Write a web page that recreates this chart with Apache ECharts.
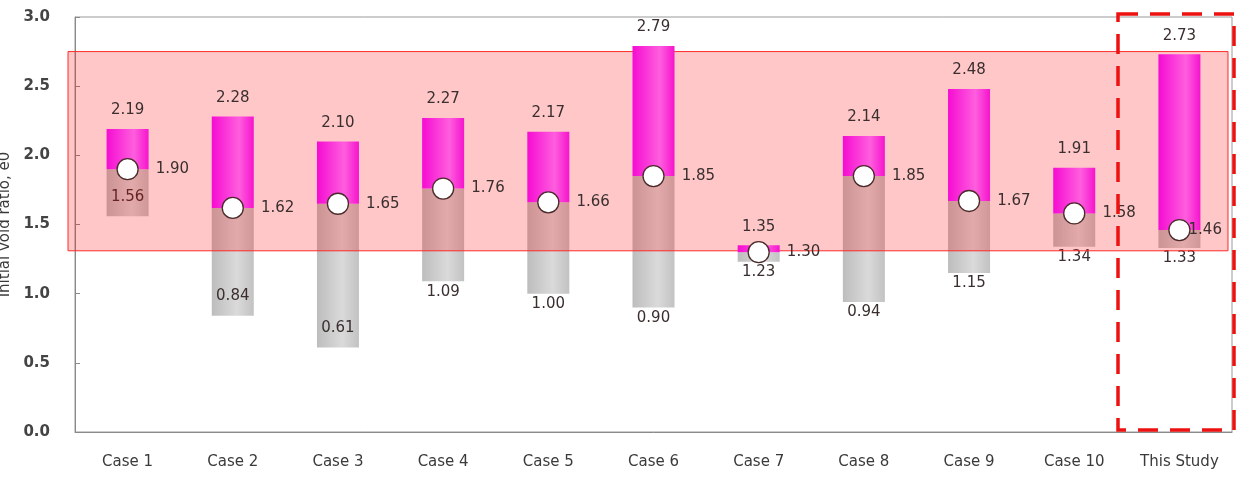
<!DOCTYPE html>
<html>
<head>
<meta charset="utf-8">
<script src="https://cdn.jsdelivr.net/npm/echarts@6/dist/echarts.min.js"></script>
<style>html,body{margin:0;padding:0;background:#fff;}#c{width:1240px;height:483px;}</style>
</head>
<body>
<div id="c"></div>
<script>
const categories = ['Case 1','Case 2','Case 3','Case 4','Case 5','Case 6','Case 7','Case 8','Case 9','Case 10','This Study'];
const maxVals  = [2.19, 2.28, 2.10, 2.27, 2.17, 2.79, 1.35, 2.14, 2.48, 1.91, 2.73];
const meanVals = [1.90, 1.62, 1.65, 1.76, 1.66, 1.85, 1.30, 1.85, 1.67, 1.58, 1.46];
const minVals  = [1.56, 0.84, 0.61, 1.09, 1.00, 0.90, 1.23, 0.94, 1.15, 1.34, 1.33];
const yRange = [0, 3.0];
const yStep = 0.5;
const bandRange = [1.31, 2.75];

const minInside = [true, true, true, false, false, false, false, false, false, false, false];
const meanLabelDist = [17, 17, 17, 17, 17, 17, 17, 17, 17, 17, -2];

const FONT = 'DejaVu Sans, Verdana, sans-serif';
const labelFont = {fontFamily: FONT, fontSize: 15, color: '#3a2e2e'};

const chart = echarts.init(document.getElementById('c'));
const diff = (a, b) => +(a - b).toFixed(4);

const magenta = {type: 'linear', x: 0, y: 0, x2: 1, y2: 0, colorStops: [
  {offset: 0, color: '#f50cd2'}, {offset: 0.65, color: '#ff5ede'}, {offset: 1, color: '#f614ce'}]};
const grey = {type: 'linear', x: 0, y: 0, x2: 1, y2: 0, colorStops: [
  {offset: 0, color: '#bdbdbd'}, {offset: 0.6, color: '#dadada'}, {offset: 1, color: '#c2c2c2'}]};

chart.setOption({
  animation: false,
  grid: {left: 75, right: 8, top: 17, bottom: 51, show: true, borderColor: '#999', borderWidth: 1,
    containLabel: false, outerBoundsMode: 'none'},
  xAxis: {
    type: 'category', data: categories,
    axisLine: {lineStyle: {color: '#8a8a8a'}},
    axisTick: {inside: true, length: 5, lineStyle: {color: '#8a8a8a'}},
    axisLabel: {margin: 23, fontFamily: FONT, fontSize: 15, color: '#3a3a3a'}
  },
  yAxis: {
    type: 'value', min: yRange[0], max: yRange[1], interval: yStep,
    name: 'Initial void ratio, e0', nameLocation: 'middle', nameGap: 60, nameRotate: 90,
    nameTextStyle: {fontFamily: FONT, fontSize: 15, color: '#3a3a3a'},
    splitLine: {show: false},
    axisLine: {show: true, lineStyle: {color: '#8a8a8a'}},
    axisTick: {show: true, inside: true, length: 5, lineStyle: {color: '#8a8a8a'}},
    axisLabel: {margin: 25, formatter: v => v.toFixed(1), fontFamily: FONT, fontSize: 15, color: '#444', fontWeight: 'bold'}
  },
  series: [
    {type: 'bar', stack: 'r', barWidth: 42, silent: true, itemStyle: {color: 'transparent'}, data: minVals, z: 2},
    {type: 'bar', stack: 'r', barWidth: 42, itemStyle: {color: grey}, z: 2,
      data: minVals.map((v, i) => ({
        value: diff(meanVals[i], v),
        label: {show: true, position: minInside[i] ? 'insideBottom' : 'bottom', distance: minInside[i] ? 12 : 3,
          formatter: () => minVals[i].toFixed(2), ...labelFont}
      }))},
    {type: 'bar', stack: 'r', barWidth: 42, itemStyle: {color: magenta}, z: 6,
      data: maxVals.map((v, i) => diff(v, meanVals[i])),
      label: {show: true, position: 'top', distance: 11, formatter: p => maxVals[p.dataIndex].toFixed(2), ...labelFont}},
    {type: 'line', data: [], z: 5, silent: true,
      markArea: {silent: true, z: 5, itemStyle: {color: 'rgba(255,0,0,0.22)', borderColor: '#ff2a2a', borderWidth: 1},
        data: [[{x: 68, yAxis: bandRange[1]}, {x: 1228, yAxis: bandRange[0]}]]}},
    {type: 'line', data: [], z: 12, silent: true,
      markArea: {silent: true, z: 12, itemStyle: {color: 'transparent', borderColor: '#ee1111', borderWidth: 3.5, borderType: [20, 12]},
        data: [[{x: 1118, y: 14}, {x: 1234, y: 430}]]}},
    {type: 'scatter', data: meanVals.map((v, i) => ({value: v, label: {distance: meanLabelDist[i]}})),
      symbol: 'circle', symbolSize: 21, z: 10,
      itemStyle: {color: '#ffffff', borderColor: '#4a2a2a', borderWidth: 1.3, opacity: 1},
      label: {show: true, position: 'right', formatter: p => meanVals[p.dataIndex].toFixed(2), ...labelFont}}
  ]
});
</script>
</body>
</html>
